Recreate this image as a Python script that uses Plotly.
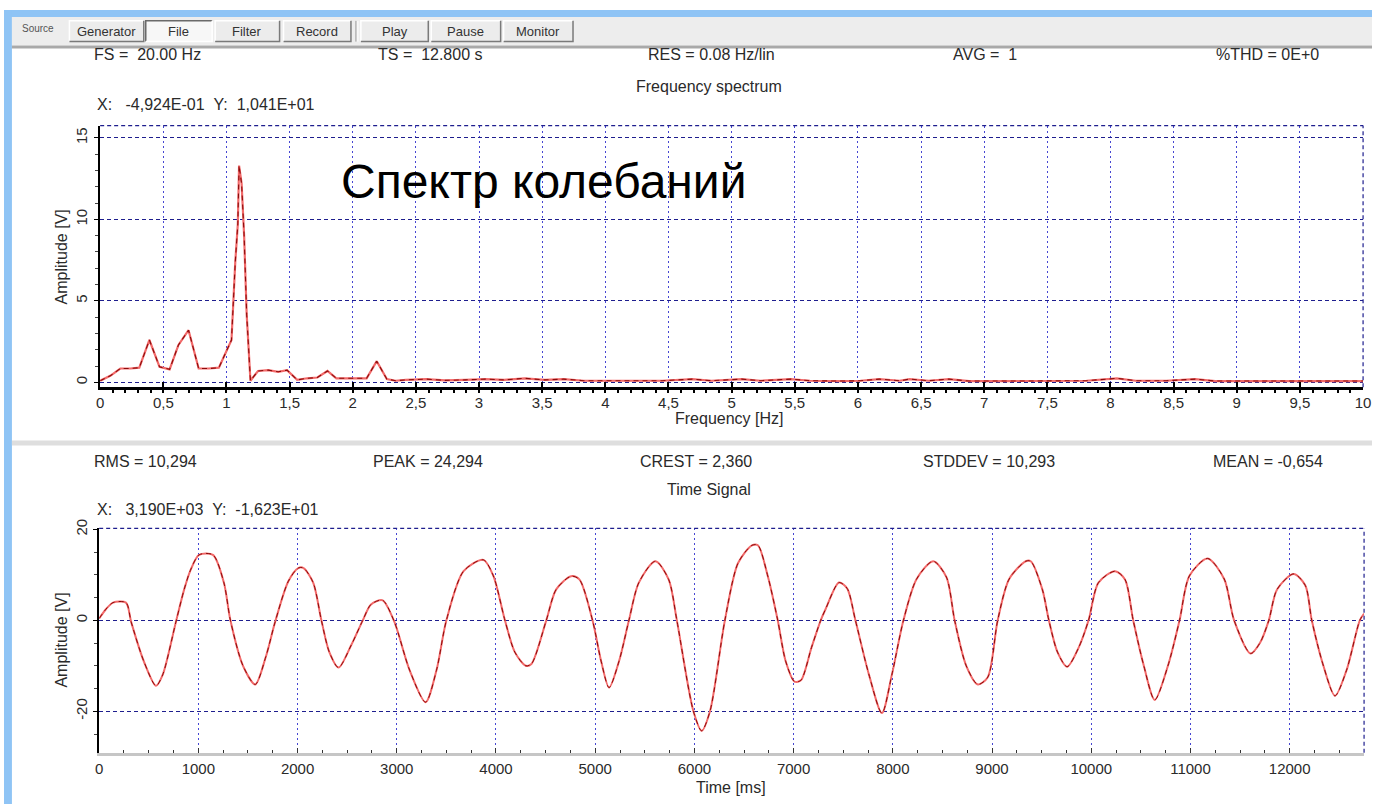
import plotly.graph_objects as go

W, H = 1380, 804

# ---- spectrum (Frequency spectrum panel) ----
freq_hz = [0.00, 0.08, 0.16, 0.24, 0.31, 0.39, 0.47, 0.55, 0.62, 0.70, 0.78, 0.86, 0.94,
           1.00, 1.04, 1.07, 1.09, 1.10, 1.12, 1.14, 1.16, 1.19,
           1.25, 1.33, 1.41, 1.48, 1.56, 1.64, 1.72, 1.80, 1.87, 1.95, 2.03, 2.11, 2.19, 2.27, 2.34,
           2.42, 2.58, 2.73, 2.89, 3.05, 3.20, 3.36, 3.52, 3.67, 3.83, 3.98, 4.14, 4.30, 4.45,
           4.69, 4.84, 5.08, 5.23, 5.47, 5.62, 5.86, 6.02, 6.17, 6.33, 6.41, 6.56, 6.72, 6.88,
           7.19, 7.50, 7.81, 8.05, 8.20, 8.44, 8.67, 8.83, 9.14, 9.45, 9.77, 10.00]
spec_amp = [0.10, 0.40, 0.85, 0.85, 0.90, 2.60, 0.95, 0.80, 2.30, 3.20, 0.85, 0.85, 0.90,
            1.90, 2.60, 7.40, 9.70, 13.30, 12.20, 9.00, 4.20, 0.10,
            0.70, 0.75, 0.65, 0.75, 0.15, 0.25, 0.30, 0.70, 0.25, 0.25, 0.25, 0.25, 1.30, 0.20, 0.10,
            0.15, 0.20, 0.12, 0.15, 0.20, 0.15, 0.25, 0.15, 0.20, 0.10, 0.10, 0.10, 0.12, 0.10,
            0.20, 0.10, 0.20, 0.10, 0.20, 0.10, 0.08, 0.10, 0.20, 0.10, 0.20, 0.10, 0.20, 0.08,
            0.08, 0.08, 0.10, 0.25, 0.10, 0.10, 0.20, 0.08, 0.08, 0.08, 0.08, 0.08]

# ---- time signal panel ----
time_ms = [0, 70, 140, 270, 323, 450, 573, 640, 773, 857, 920, 1007, 1147, 1257, 1323, 1450,
           1573, 1680, 1773, 1907, 2007, 2060, 2157, 2240, 2320, 2413, 2540, 2657, 2740, 2857,
           2973, 3130, 3290, 3400, 3500, 3673, 3873, 3973, 4090, 4190, 4300, 4357, 4507, 4607,
           4757, 4840, 4973, 5060, 5140, 5240, 5340, 5440, 5607, 5740, 5823, 5990, 6073, 6157,
           6307, 6440, 6580, 6640, 6740, 6840, 6920, 7010, 7073, 7180, 7273, 7323, 7457, 7540,
           7623, 7760, 7890, 7990, 8107, 8240, 8407, 8540, 8623, 8740, 8857, 8957, 9057, 9173,
           9340, 9390, 9507, 9573, 9660, 9757, 9873, 9973, 10073, 10240, 10340, 10423, 10530,
           10640, 10773, 10890, 10990, 11173, 11340, 11440, 11607, 11700, 11790, 11873, 12040,
           12157, 12223, 12340, 12457, 12573, 12707, 12750]
signal_v = [0.4, 2.5, 3.9, 3.9, -0.4, -9.0, -14.4, -12.0, -0.4, 6.8, 11.0, 14.4, 14.4, 8.3, 0.0, -10.0,
            -14.1, -8.0, -0.4, 8.6, 11.5, 11.5, 8.3, 0.0, -7.0, -10.4, -5.5, 0.0, 3.5, 4.4,
            -0.2, -11.0, -18.0, -11.0, 0.0, 10.8, 13.3, 9.8, 0.0, -7.0, -10.0, -9.6, 0.0, 6.8,
            9.7, 9.0, 0.0, -9.0, -14.8, -9.0, 0.0, 8.3, 13.0, 9.0, 0.0, -20.0, -24.3, -20.0,
            0.0, 12.6, 16.5, 16.5, 9.7, 0.0, -9.0, -13.5, -13.2, -6.0, 0.0, 2.5, 8.3, 7.0,
            0.0, -12.0, -20.4, -12.0, 0.0, 9.1, 13.0, 9.5, 0.0, -10.0, -14.1, -12.5, 0.0, 9.1,
            13.0, 13.0, 6.8, 0.0, -7.0, -10.2, -6.0, 0.0, 8.3, 10.8, 9.0, 0.0, -10.0,
            -17.5, -10.0, 0.0, 9.8, 13.6, 9.1, 0.0, -7.3, -5.0, 0.0, 6.8, 10.2,
            7.7, 0.0, -10.0, -16.6, -11.0, 0.0, 1.5]

# ---- tick labels ----
freq_ticks = [0, 0.5, 1, 1.5, 2, 2.5, 3, 3.5, 4, 4.5, 5, 5.5, 6, 6.5, 7, 7.5, 8, 8.5, 9, 9.5, 10]
freq_tick_text = ["0", "0,5", "1", "1,5", "2", "2,5", "3", "3,5", "4", "4,5", "5", "5,5", "6",
                  "6,5", "7", "7,5", "8", "8,5", "9", "9,5", "10"]
time_ticks = [0, 1000, 2000, 3000, 4000, 5000, 6000, 7000, 8000, 9000, 10000, 11000, 12000]
time_tick_text = ["0", "1000", "2000", "3000", "4000", "5000", "6000", "7000", "8000", "9000",
                  "10000", "11000", "12000"]
spec_yticks = [0, 5, 10, 15]
spec_ytick_text = ["0", "5", "10", "15"]
sig_yticks = [-20, 0, 20]
sig_ytick_text = ["-20", "0", "20"]

NB = "\u00a0"
# ---- text rows ----
spectrum_stats = [f"FS ={NB}{NB}20.00 Hz", f"TS ={NB}{NB}12.800 s", "RES = 0.08 Hz/lin",
                  f"AVG ={NB}{NB}1", "%THD = 0E+0"]
spectrum_stats_x = [89, 375, 648, 955, 1221]
spectrum_cursor = f"X:{NB}{NB}{NB}-4,924E-01{NB}{NB}Y:{NB}{NB}1,041E+01"
signal_stats = ["RMS = 10,294", "PEAK = 24,294", "CREST = 2,360", "STDDEV = 10,293", "MEAN = -0,654"]
signal_stats_x = [89, 370, 640, 925, 1218]
signal_cursor = f"X:{NB}{NB}{NB}3,190E+03{NB}{NB}Y:{NB}{NB}-1,623E+01"
toolbar_buttons = ["Generator", "File", "Filter", "Record", "Play", "Pause", "Monitor"]
toolbar_x0 = [66, 143, 213, 282, 360, 431, 504]
toolbar_x1 = [141, 210, 278, 350, 428, 501, 574]

FONT = "Liberation Sans, Arial, sans-serif"
TXT = "#2a2a2a"
GRID_H = "#1e1e8e"
GRID_V = "#4646d2"


def px(x):
    return x / W


def py(y):
    return 1 - y / H


fig = go.Figure()

# spectrum line: light red stroke with darker dashes on top
fig.add_trace(go.Scatter(x=freq_hz, y=spec_amp, xaxis="x", yaxis="y", mode="lines",
                         line=dict(color="#f26a6a", width=2.2), hoverinfo="skip"))
fig.add_trace(go.Scatter(x=freq_hz, y=spec_amp, xaxis="x", yaxis="y", mode="lines",
                         line=dict(color="#8a0a0a", width=1.1, dash="5px,4px"), hoverinfo="skip"))
# time signal
fig.add_trace(go.Scatter(x=time_ms, y=signal_v, xaxis="x2", yaxis="y2", mode="lines",
                         line=dict(color="#f26a6a", width=2.0, shape="spline", smoothing=0.8),
                         hoverinfo="skip"))
fig.add_trace(go.Scatter(x=time_ms, y=signal_v, xaxis="x2", yaxis="y2", mode="lines",
                         line=dict(color="#8a0a0a", width=1.0, dash="5px,4px", shape="spline",
                                   smoothing=0.8), hoverinfo="skip"))

tickfont = dict(family=FONT, size=15, color=TXT)

fig.update_layout(
    width=W, height=H, margin=dict(l=0, r=0, t=0, b=0),
    paper_bgcolor="white", plot_bgcolor="white", showlegend=False, hovermode=False,
    xaxis=dict(domain=[px(97), px(1371)], range=[0, 10], anchor="y",
               tickmode="array", tickvals=freq_ticks, ticktext=freq_tick_text,
               showgrid=True, gridcolor=GRID_V, griddash="2px,3px", gridwidth=1,
               showline=True, linecolor="black", linewidth=2.5,
               ticks="inside", ticklen=5, tickcolor="black", tickwidth=1.5,
               minor=dict(tickmode="linear", tick0=0, dtick=0.1, ticks="outside", ticklen=3,
                          tickcolor="black", showgrid=False),
               zeroline=False, tickfont=tickfont),
    yaxis=dict(domain=[py(382), py(117)], range=[-0.3, 15.76], anchor="x",
               tickmode="array", tickvals=spec_yticks, ticktext=spec_ytick_text, tickangle=-90,
               showgrid=True, gridcolor=GRID_H, griddash="4px,3px", gridwidth=1.2,
               showline=True, linecolor="black", linewidth=1.5,
               ticks="outside", ticklen=4, tickcolor="black",
               minor=dict(tickmode="linear", tick0=0, dtick=1, ticks="outside", ticklen=3,
                          tickcolor="#444", showgrid=False),
               ticklabelstandoff=1, zeroline=False, tickfont=tickfont),
    xaxis2=dict(domain=[px(96), px(1372)], range=[0, 12750], anchor="y2",
                tickmode="array", tickvals=time_ticks, ticktext=time_tick_text,
                showgrid=True, gridcolor=GRID_V, griddash="2px,3px", gridwidth=1.2,
                showline=True, linecolor="#c6c6c6", linewidth=3,
                ticks="inside", ticklen=5, tickcolor="#333",
                minor=dict(tickmode="linear", tick0=0, dtick=250, ticks="inside", ticklen=3,
                           tickcolor="#333", showgrid=False),
                zeroline=False, tickfont=tickfont),
    yaxis2=dict(domain=[py(752), py(525)], range=[-29.1, 20.2], anchor="x2",
                tickmode="array", tickvals=sig_yticks, ticktext=sig_ytick_text, tickangle=-90,
                showgrid=True, gridcolor=GRID_H, griddash="4px,3px", gridwidth=1.2,
                showline=True, linecolor="black", linewidth=2,
                ticks="outside", ticklen=4, tickcolor="black",
                minor=dict(tickmode="linear", tick0=0, dtick=5, ticks="outside", ticklen=3,
                           tickcolor="#444", showgrid=False),
                ticklabelstandoff=0, zeroline=False, tickfont=tickfont),
)

shapes = []
# window frame: blue border strips, toolbar strip, separators
shapes.append(dict(type="rect", xref="paper", yref="paper", x0=0, x1=1, y0=py(7), y1=1,
                   fillcolor="#8fc4f5", line_width=0, layer="below"))
shapes.append(dict(type="rect", xref="paper", yref="paper", x0=0, x1=px(8), y0=0, y1=1,
                   fillcolor="#8fc4f5", line_width=0, layer="below"))
shapes.append(dict(type="rect", xref="paper", yref="paper", x0=px(8), x1=1, y0=py(36), y1=py(7),
                   fillcolor="#ededed", line_width=0, layer="below"))
shapes.append(dict(type="rect", xref="paper", yref="paper", x0=px(8), x1=1, y0=py(39), y1=py(36),
                   fillcolor="#a9a9a9", line_width=0, layer="below"))
shapes.append(dict(type="rect", xref="paper", yref="paper", x0=px(8), x1=1, y0=py(441), y1=py(436),
                   fillcolor="#dedede", line_width=0, layer="below"))
shapes.append(dict(type="line", xref="paper", yref="paper", x0=px(355), x1=px(355), y0=py(32), y1=py(11),
                   line=dict(color="#9a9a9a", width=1)))
shapes.append(dict(type="line", xref="paper", yref="paper", x0=px(357), x1=px(357), y0=py(32), y1=py(11),
                   line=dict(color="white", width=1)))

# toolbar buttons (raised, with the "File" one sunken)
for name, x0, x1 in zip(toolbar_buttons, toolbar_x0, toolbar_x1):
    sunken = name == "File"
    shapes.append(dict(type="rect", xref="paper", yref="paper", x0=px(x0), x1=px(x1),
                       y0=py(32), y1=py(11), fillcolor="#f7f7f7" if sunken else "#ececec",
                       line_width=0))
    dark, light = ("#6a6a6a", "#ffffff") if sunken else ("#ffffff", "#7a7a7a")
    shapes.append(dict(type="path", xref="paper", yref="paper",
                       path=f"M {px(x0)},{py(32)} L {px(x0)},{py(11)} L {px(x1)},{py(11)}",
                       line=dict(color=dark, width=1.5)))
    shapes.append(dict(type="path", xref="paper", yref="paper",
                       path=f"M {px(x0)},{py(32)} L {px(x1)},{py(32)} L {px(x1)},{py(11)}",
                       line=dict(color=light, width=1.5)))

# dashed top and right plot borders
for xr, yr in (("x", "y"), ("x2", "y2")):
    shapes.append(dict(type="line", xref=f"{xr} domain", yref=f"{yr} domain", x0=0, x1=1, y0=1, y1=1,
                       line=dict(color=GRID_H, width=1.2, dash="4px,3px")))
    shapes.append(dict(type="line", xref=f"{xr} domain", yref=f"{yr} domain", x0=1, x1=1, y0=0, y1=1,
                       line=dict(color=GRID_H, width=1.2, dash="4px,3px")))

annotations = []


def label(text, x, y, size=16, anchor="left", angle=0, color=TXT):
    annotations.append(dict(text=text, x=px(x), y=py(y), xref="paper", yref="paper",
                            xanchor=anchor, yanchor="middle", showarrow=False, textangle=angle,
                            font=dict(family=FONT, size=size, color=color)))


label("Source", 16, 19, size=10, color="#555")
for name, x0, x1 in zip(toolbar_buttons, toolbar_x0, toolbar_x1):
    label(name, (x0 + x1) / 2, 22, size=13, anchor="center", color="#333")

for text, x in zip(spectrum_stats, spectrum_stats_x):
    label(text, x, 45)
label("Frequency spectrum", 711, 77, anchor="center")
label(spectrum_cursor, 92, 96)
label("Amplitude [V]", 58, 250, anchor="center", angle=-90)
label("Frequency [Hz]", 731, 414, anchor="center")
label("Спектр колебаний", 338, 174, size=48, color="#000000")

for text, x in zip(signal_stats, signal_stats_x):
    label(text, x, 457)
label("Time Signal", 711, 486, anchor="center")
label(signal_cursor, 92, 506)
label("Amplitude [V]", 58, 638, anchor="center", angle=-90)
label("Time [ms]", 733, 787, anchor="center")

fig.update_layout(shapes=shapes, annotations=annotations)

fig.write_html("out.html")
